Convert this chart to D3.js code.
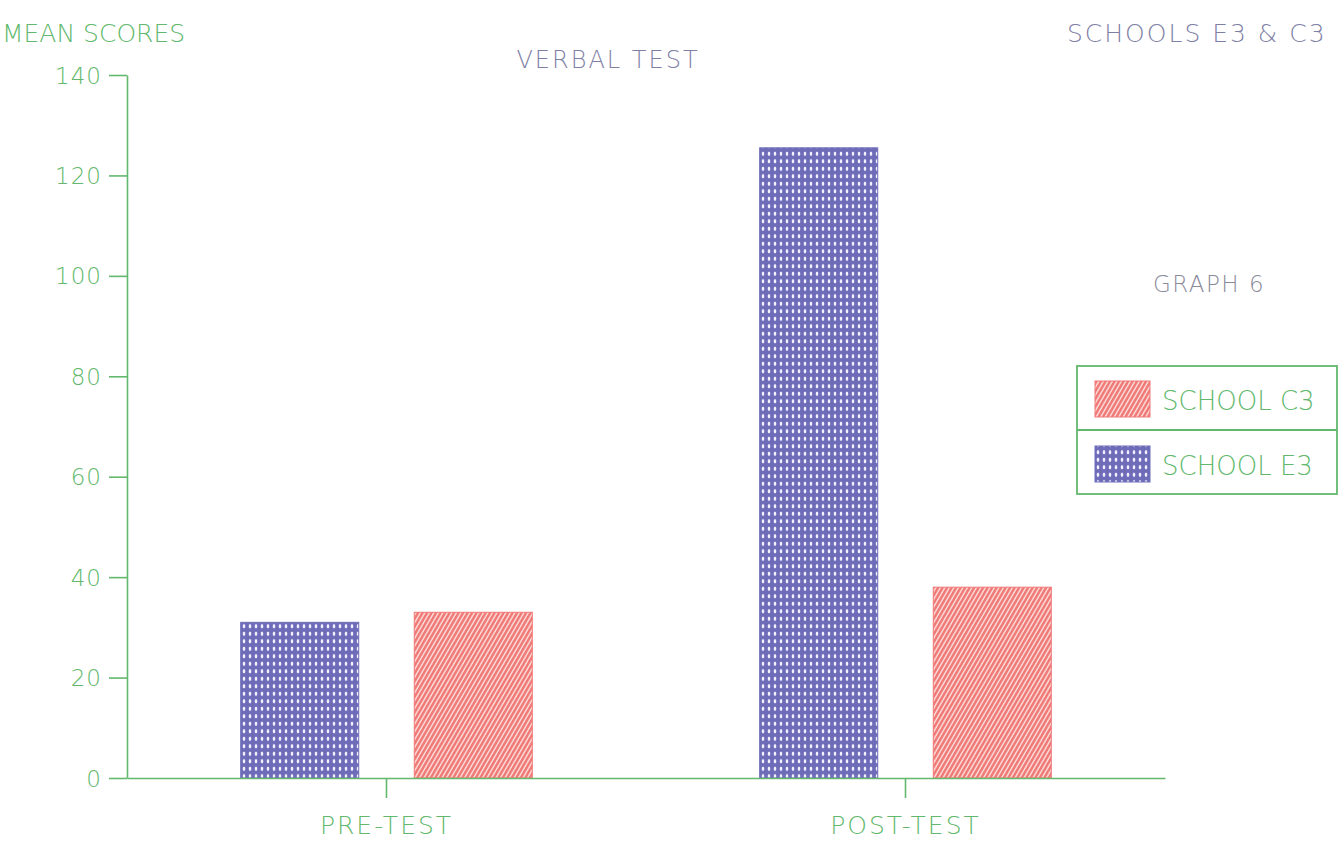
<!DOCTYPE html>
<html><head><meta charset="utf-8">
<script src="https://cdn.jsdelivr.net/npm/d3@7"></script>
<style>
body{margin:0;background:#fff;}
text{font-family:"DejaVu Sans","Liberation Sans",sans-serif;font-weight:200;}
</style></head>
<body>
<svg id="c" width="1342" height="843"></svg>
<script>
const categories = ["PRE-TEST", "POST-TEST"];
const seriesNames = ["SCHOOL E3", "SCHOOL C3"];
const e3Values = [31, 125.5];
const c3Values = [33, 38];
const yTicks = [0, 20, 40, 60, 80, 100, 120, 140];

const green = "#62b86c", blue = "#6e6cb8", red = "#f07a78", purple = "#7f7fa6", gray = "#8a8a9a";
const svg = d3.select("#c");
const defs = svg.append("defs");
const pd = defs.append("pattern").attr("id","dots").attr("patternUnits","userSpaceOnUse").attr("width",6).attr("height",7.5);
pd.append("rect").attr("width",6).attr("height",7.5).attr("fill",blue);
pd.append("ellipse").attr("cx",3).attr("cy",3.75).attr("rx",1.3).attr("ry",2.1).attr("fill","#f4f2ff");
const ps = defs.append("pattern").attr("id","stripes").attr("patternUnits","userSpaceOnUse").attr("width",4.5).attr("height",10).attr("patternTransform","skewX(-30)");
ps.append("rect").attr("width",4.5).attr("height",10).attr("fill",red);
ps.append("rect").attr("x",3).attr("width",1.3).attr("height",10).attr("fill","#fff4f0");

const fills = {"SCHOOL E3":"url(#dots)","SCHOOL C3":"url(#stripes)"};
const strokes = {"SCHOOL E3":blue,"SCHOOL C3":red};

const x0 = d3.scaleBand().domain(categories).range([127,1165]).padding(0);
const x1 = d3.scaleBand().domain(seriesNames).range([0,x0.bandwidth()]).paddingInner(0.32).paddingOuter(0.655);
const y = d3.scaleLinear().domain([0,140]).range([778,75]);

const data = categories.map((c,i)=>({cat:c, vals:[{s:"SCHOOL E3",v:e3Values[i]},{s:"SCHOOL C3",v:c3Values[i]}]}));

const g = svg.append("g");
g.selectAll("g.grp").data(data).join("g").attr("class","grp")
 .attr("transform",d=>`translate(${x0(d.cat)},0)`)
 .selectAll("rect").data(d=>d.vals).join("rect")
 .attr("x",d=>x1(d.s)).attr("width",x1.bandwidth())
 .attr("y",d=>y(d.v)).attr("height",d=>y(0)-y(d.v))
 .attr("fill",d=>fills[d.s]).attr("stroke",d=>strokes[d.s]).attr("stroke-width",1);

const ya = svg.append("g").attr("transform","translate(127,0)")
 .call(d3.axisLeft(y).tickValues(yTicks).tickSize(18).tickSizeOuter(0).tickPadding(7));
const xa = svg.append("g").attr("transform","translate(0,778)")
 .call(d3.axisBottom(x0).tickSize(20).tickSizeOuter(0).tickPadding(18));
[ya,xa].forEach(a=>{a.selectAll("path,line").attr("stroke",green).attr("stroke-width",1.6);
  a.selectAll("text").attr("fill",green).attr("font-family","DejaVu Sans").attr("font-weight",200);});
ya.selectAll("text").attr("font-size",23).attr("dy","0.35em").attr("letter-spacing",1);
xa.selectAll("text").attr("font-size",25).attr("dy","0.7em").attr("letter-spacing",2);

svg.append("text").attr("x",2).attr("y",42).attr("fill",green).attr("font-size",25).text("MEAN SCORES");
svg.append("text").attr("x",608).attr("y",68).attr("text-anchor","middle").attr("fill",purple).attr("font-size",24).attr("letter-spacing",2).text("VERBAL TEST");
svg.append("text").attr("x",1067).attr("y",42).attr("fill",purple).attr("font-size",25).attr("letter-spacing",2).text("SCHOOLS E3 & C3");
svg.append("text").attr("x",1209).attr("y",292).attr("text-anchor","middle").attr("fill",gray).attr("font-size",23).attr("letter-spacing",1.5).text("GRAPH 6");

const legendOrder = ["SCHOOL C3","SCHOOL E3"];
const lg = svg.append("g").attr("transform","translate(1077,366)");
lg.append("rect").attr("width",260).attr("height",128).attr("fill","none").attr("stroke",green).attr("stroke-width",1.8);
lg.append("line").attr("x1",0).attr("x2",260).attr("y1",64).attr("y2",64).attr("stroke",green).attr("stroke-width",1.8);
legendOrder.forEach((s,i)=>{
  lg.append("rect").attr("x",18).attr("y",15+i*65).attr("width",55).attr("height",36)
    .attr("fill",fills[s]).attr("stroke",strokes[s]);
  lg.append("text").attr("x",85).attr("y",44+i*65).attr("fill",green).attr("font-size",26).text(s);
});
</script>
</body></html>
